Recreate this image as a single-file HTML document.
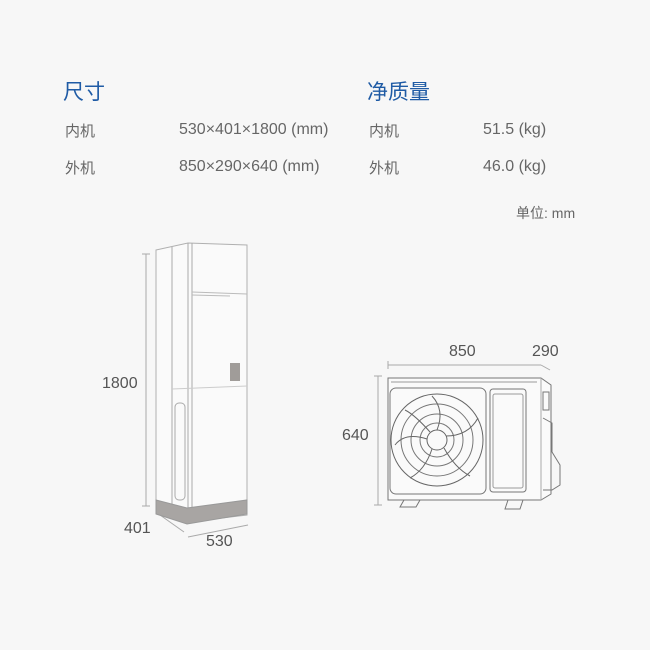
<!DOCTYPE html>
<html><head><meta charset="utf-8"><style>
html,body{margin:0;padding:0;background:#f7f7f7;}
body{width:650px;height:650px;position:relative;overflow:hidden;font-family:"Liberation Sans","Noto Sans CJK SC",sans-serif;}
.t{position:absolute;white-space:nowrap;}
.h{color:#1f5ba5;font-size:21px;}
.g{color:#666;font-size:15px;}
.n{font-size:16px;}
</style></head><body>
<div class="t h" style="left:63px;top:76px">尺寸</div>
<div class="t h" style="left:367px;top:76px">净质量</div>
<div class="t g" style="left:65px;top:120px">内机</div>
<div class="t g n" style="left:179px;top:121px">530×401×1800 (mm)</div>
<div class="t g" style="left:65px;top:157px">外机</div>
<div class="t g n" style="left:179px;top:158px">850×290×640 (mm)</div>
<div class="t g" style="left:369px;top:120px">内机</div>
<div class="t g n" style="left:483px;top:121px">51.5 (kg)</div>
<div class="t g" style="left:369px;top:157px">外机</div>
<div class="t g n" style="left:483px;top:158px">46.0 (kg)</div>
<div class="t g" style="left:516px;top:203px;font-size:14px">单位: mm</div>
<div class="t g n" style="left:102px;top:375px;color:#555">1800</div>
<div class="t g n" style="left:124px;top:520px;color:#555">401</div>
<div class="t g n" style="left:206px;top:533px;color:#555">530</div>
<div class="t g n" style="left:342px;top:427px;color:#555">640</div>
<div class="t g n" style="left:449px;top:343px;color:#555">850</div>
<div class="t g n" style="left:532px;top:343px;color:#555">290</div>
<svg width="650" height="650" style="position:absolute;left:0;top:0" fill="none" stroke="#aaa" stroke-width="1">
<line x1="146" y1="254" x2="146" y2="506"/><line x1="142" y1="254" x2="150" y2="254"/><line x1="142" y1="506" x2="150" y2="506"/>
<line x1="160" y1="515" x2="184" y2="532"/>
<line x1="188" y1="537" x2="248" y2="525"/>
<path d="M156 250 L188 243 L247 245 L247 515 L188 522 L156 512 Z" fill="#fafafa" stroke="#b0b0b0"/>
<line x1="172" y1="247" x2="172" y2="515"/>
<line x1="188" y1="243" x2="188" y2="522"/>
<line x1="192" y1="243" x2="192" y2="520"/>
<path d="M192 292 L247 294 M192 295 L230 296" stroke="#bbb"/>
<line x1="172" y1="389" x2="247" y2="386" stroke="#ccc"/>
<rect x="230" y="363" width="10" height="18" fill="#a09c99" stroke="none"/>
<rect x="175" y="403" width="10" height="97" rx="4"/>
<path d="M156 500 L187 508 L247 500 L247 514 L187 524 L156 514 Z" fill="#a8a5a3" stroke="#999"/>
<line x1="388" y1="365" x2="541" y2="365"/><line x1="388" y1="361" x2="388" y2="369"/>
<line x1="541" y1="365" x2="550" y2="370"/>
<line x1="378" y1="376" x2="378" y2="505"/><line x1="374" y1="376" x2="382" y2="376"/><line x1="374" y1="505" x2="382" y2="505"/>
<path d="M388 378 L541 378 L551 385 L551 494 L541 500 L388 500 Z" fill="#fafafa" stroke="#777"/>
<line x1="391" y1="382" x2="537" y2="382" stroke="#999"/>
<line x1="541" y1="378" x2="541" y2="500"/>
<rect x="390" y="388" width="96" height="106" rx="6" stroke="#777"/>
<rect x="490" y="389" width="36" height="103" rx="3" stroke="#777"/>
<rect x="493" y="394" width="30" height="94" rx="2" stroke="#999"/>
<circle cx="437" cy="440" r="46" stroke="#666"/>
<circle cx="437" cy="440" r="36" stroke="#777"/>
<circle cx="437" cy="440" r="26" stroke="#777"/>
<circle cx="437" cy="440" r="17" stroke="#777"/>
<circle cx="437" cy="440" r="10" stroke="#666"/>
<g stroke="#666">
<path d="M437 430 Q445 410 432 396"/><path d="M446 436 Q468 436 478 418"/><path d="M444 448 Q455 468 470 476"/>
<path d="M432 449 Q425 470 410 478"/><path d="M427 439 Q405 432 395 445"/><path d="M430 432 Q415 415 405 410"/>
</g>
<path d="M543 392 L549 392 L549 410 L543 410 Z" stroke="#777"/>
<path d="M543 418 L552 423 L552 452 L560 465 L560 485 L552 490 L543 490" stroke="#777"/>
<path d="M404 500 L400 507 L416 507 L420 500" stroke="#777"/>
<path d="M508 500 L505 509 L520 509 L523 500" stroke="#777"/>
</svg>
</body></html>
